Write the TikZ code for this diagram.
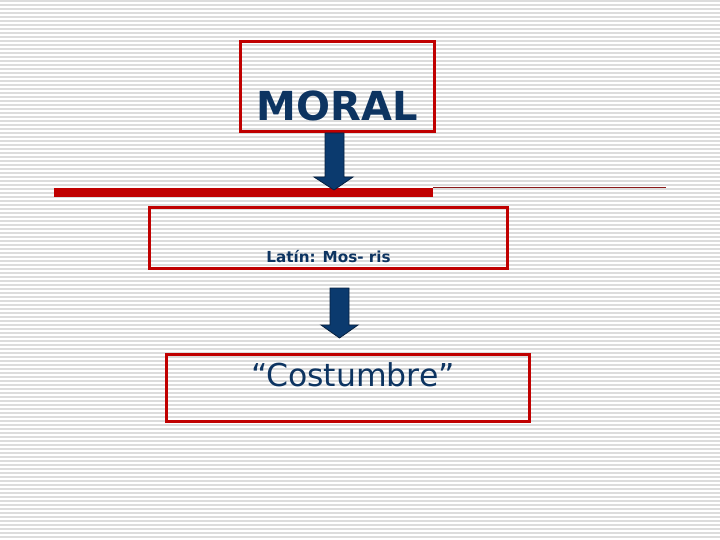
\documentclass[tikz,border=0pt]{standalone}
\usepackage{fontspec}
\setmainfont{DejaVu Sans}
\begin{document}
\begin{tikzpicture}[x=1pt,y=-1pt,
  redbox/.style={draw=boxred,line width=3pt,inner sep=0pt},
  bluetxt/.style={text=txtblue,inner sep=0pt},
  blockarrow/.style={fill=arrowblue,draw=arrowedge,line width=0.8pt,line join=miter}]
\definecolor{boxred}{HTML}{C00000}
\definecolor{txtblue}{HTML}{0D3461}
\definecolor{arrowblue}{HTML}{0B3A6E}
\definecolor{arrowedge}{HTML}{06203F}
\definecolor{stripe}{HTML}{DCDCDC}
\definecolor{thinred}{HTML}{8B1A1A}
\useasboundingbox (0,0) rectangle (720,540);
\fill[white] (0,0) rectangle (720,540);
\foreach \k in {0,...,134} {
  \fill[stripe] (0,{4*\k+0.3}) rectangle (720,{4*\k+1.6});
}
% boxes
\node[redbox,minimum width=194pt,minimum height=90pt] (moral) at (337.5,87) {};
\node[bluetxt,font=\bfseries\fontsize{40}{40}\selectfont,anchor=base] (moraltxt) at (337,121) {MORAL};
\node[redbox,minimum width=358pt,minimum height=61pt] (latin) at (328.5,238) {};
\node[bluetxt,font=\bfseries\fontsize{15.2}{16}\selectfont,anchor=base] (latintxt) at (328.5,262) {Latín: Mos- ris};
\node[redbox,minimum width=363pt,minimum height=67pt] (cost) at (348,388) {};
\node[bluetxt,font=\fontsize{31.5}{32}\selectfont,anchor=base] (costtxt) at (353,386.5) {“Costumbre”};
% bar and thin line
\coordinate (barL) at (54,192.5);
\coordinate (barR) at (433,192.5);
\coordinate (lineR) at (666,187.5);
\draw[boxred,line width=9pt] (barL) -- (barR);
\draw[thinred,line width=1pt] (barR|-lineR) -- (lineR);
% arrows
\draw[blockarrow] (325,133) -- (344,133) -- (344,177) -- (353,177) -- (334,190) -- (314,177) -- (325,177) -- cycle;
\draw[blockarrow] (330,288) -- (349,288) -- (349,325) -- (358,325) -- (339.5,338) -- (321,325) -- (330,325) -- cycle;
\end{tikzpicture}
\end{document}
